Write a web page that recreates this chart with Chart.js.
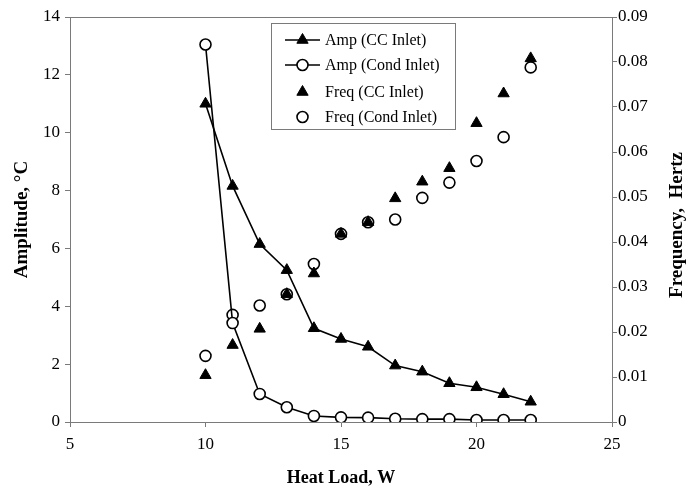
<!DOCTYPE html>
<html>
<head>
<meta charset="utf-8">
<script src="https://cdn.jsdelivr.net/npm/chart.js@4/dist/chart.umd.min.js"></script>
<style>
body { margin: 0; background: #fff; }
#wrap { width: 693px; height: 493px; }
</style>
</head>
<body>
<div id="wrap"><canvas id="heatChart" width="693" height="493"></canvas></div>
<script>
// heat load (W) on x
var heatLoad = [10, 11, 12, 13, 14, 15, 16, 17, 18, 19, 20, 21, 22];
// amplitude, deg C (left axis)
var ampCC   = [11.0, 8.16, 6.15, 5.25, 3.24, 2.87, 2.6, 1.95, 1.74, 1.34, 1.2, 0.96, 0.7];
var ampCond = [13.05, 3.42, 0.97, 0.51, 0.21, 0.16, 0.15, 0.11, 0.1, 0.1, 0.07, 0.07, 0.07];
// frequency, Hz (right axis)
var freqCC   = [0.0104, 0.0171, 0.0207, 0.0284, 0.033, 0.0418, 0.0444, 0.0497, 0.0534, 0.0564, 0.0664, 0.073, 0.0808];
var freqCond = [0.0147, 0.0238, 0.0259, 0.0284, 0.0351, 0.0418, 0.0444, 0.045, 0.0498, 0.0532, 0.058, 0.0633, 0.0788];

var seriesNames = ['Amp (CC Inlet)', 'Amp (Cond Inlet)', 'Freq (CC Inlet)', 'Freq (Cond Inlet)'];

function pts(ys) {
    return heatLoad.map(function(x, i) { return {x: x, y: ys[i]}; });
}

var serif = "'Liberation Serif', 'DejaVu Serif', serif";
var axisGray = '#7a7a7a';

var triangle = {pointStyle: 'triangle', pointRadius: 6.5, pointBackgroundColor: '#000', pointBorderColor: '#000', pointBorderWidth: 1};
var ring = {pointStyle: 'circle', pointRadius: 5.5, pointBackgroundColor: '#fff', pointBorderColor: '#000', pointBorderWidth: 1.6};

// dataset 0 ends up on top, so freq triangles sit above freq circles
var datasets = [
    Object.assign({label: seriesNames[0], data: pts(ampCC), yAxisID: 'y', showLine: true, borderColor: '#000', borderWidth: 1.6}, triangle),
    Object.assign({label: seriesNames[1], data: pts(ampCond), yAxisID: 'y', showLine: true, borderColor: '#000', borderWidth: 1.6}, ring),
    Object.assign({label: seriesNames[2], data: pts(freqCC), yAxisID: 'y1', showLine: false, borderColor: '#000'}, triangle),
    Object.assign({label: seriesNames[3], data: pts(freqCond), yAxisID: 'y1', showLine: false, borderColor: '#000'}, ring)
];

// legend box drawn inside the plot, plus top frame line and right title
var extras = {
    id: 'extras',
    afterDraw: function(chart) {
        var ctx = chart.ctx, a = chart.chartArea;
        ctx.save();
        ctx.strokeStyle = axisGray;
        ctx.lineWidth = 1;
        ctx.beginPath();
        ctx.moveTo(a.left, a.top + 0.5);
        ctx.lineTo(a.right, a.top + 0.5);
        ctx.stroke();

        // right axis title, reads bottom to top
        ctx.translate(677, 225);
        ctx.rotate(-Math.PI / 2);
        ctx.fillStyle = '#000';
        ctx.font = "bold 19px " + serif;
        ctx.textAlign = 'center';
        ctx.textBaseline = 'middle';
        ctx.fillText('Frequency,  Hertz', 0, 0);
        ctx.restore();

        // legend
        ctx.save();
        ctx.fillStyle = '#fff';
        ctx.fillRect(271, 23, 184, 106);
        ctx.strokeStyle = axisGray;
        ctx.strokeRect(271.5, 23.5, 184, 106);
        var rows = [40, 65, 92, 117];
        var styles = [
            {st: triangle, line: true},
            {st: ring, line: true},
            {st: triangle, line: false},
            {st: ring, line: false}
        ];
        ctx.font = "16px " + serif;
        ctx.textBaseline = 'middle';
        rows.forEach(function(y, i) {
            var s = styles[i].st;
            ctx.strokeStyle = '#000';
            if (styles[i].line) {
                ctx.lineWidth = 1.6;
                ctx.beginPath();
                ctx.moveTo(285, y);
                ctx.lineTo(320, y);
                ctx.stroke();
            }
            ctx.fillStyle = s.pointBackgroundColor;
            ctx.lineWidth = s.pointBorderWidth;
            Chart.helpers.drawPoint(ctx, {pointStyle: s.pointStyle, radius: s.pointRadius, borderWidth: s.pointBorderWidth, rotation: 0}, 302.5, y);
            ctx.fillStyle = '#000';
            ctx.fillText(seriesNames[i], 325, y + 1);
        });
        ctx.restore();
    }
};

var tickFont = {family: serif, size: 17};

var config = {
    type: 'scatter',
    data: {datasets: datasets},
    options: {
        responsive: false,
        animation: false,
        layout: {padding: {top: 17, left: 0, right: 0, bottom: 0}},
        plugins: {
            legend: {display: false},
            tooltip: {enabled: false}
        },
        scales: {
            x: {
                type: 'linear',
                min: 5,
                max: 25,
                ticks: {stepSize: 5, color: '#000', font: tickFont, padding: 7},
                grid: {drawOnChartArea: false, tickLength: 5, color: axisGray},
                border: {color: axisGray},
                title: {display: true, text: 'Heat Load, W', color: '#000', font: {family: serif, size: 18, weight: 'bold', lineHeight: 1.1}, padding: {top: 0, bottom: 5}},
                afterFit: function(scale) { scale.height = 71; }
            },
            y: {
                position: 'left',
                min: 0,
                max: 14,
                ticks: {stepSize: 2, color: '#000', font: tickFont, padding: 5},
                grid: {drawOnChartArea: false, tickLength: 5, color: axisGray},
                border: {color: axisGray},
                title: {display: true, text: 'Amplitude, \u00B0C', color: '#000', font: {family: serif, size: 19, weight: 'bold', lineHeight: 1.2}, padding: {top: 11, bottom: 0}},
                afterFit: function(scale) { scale.width = 70; }
            },
            y1: {
                position: 'right',
                min: 0,
                max: 0.09,
                ticks: {stepSize: 0.01, color: '#000', font: tickFont, padding: 1},
                grid: {drawOnChartArea: false, tickLength: 5, color: axisGray},
                border: {color: axisGray},
                afterFit: function(scale) { scale.width = 81; }
            }
        }
    },
    plugins: [extras]
};

var ctx = document.getElementById('heatChart').getContext('2d');
var heatChart = new Chart(ctx, config);
</script>
</body>
</html>
